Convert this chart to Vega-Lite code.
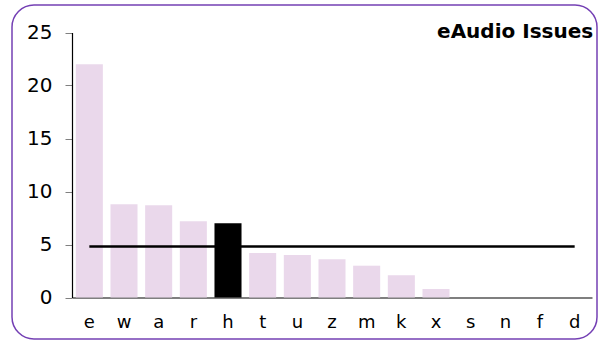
{
  "$schema": "https://vega.github.io/schema/vega-lite/v6.json",
  "width": 585,
  "height": 334,
  "autosize": {"type": "none"},
  "padding": {"left": 12, "top": 5, "right": 2, "bottom": 6},
  "background": "white",
  "config": {
    "view": {"stroke": "#7440B4", "strokeWidth": 1.5, "cornerRadius": 22},
    "font": "DejaVu Sans"
  },
  "datasets": {
    "issues": [
      {"cat": "e", "count": 22, "avg": 4.8},
      {"cat": "w", "count": 8.8, "avg": 4.8},
      {"cat": "a", "count": 8.7, "avg": 4.8},
      {"cat": "r", "count": 7.2, "avg": 4.8},
      {"cat": "h", "count": 7.0, "avg": 4.8},
      {"cat": "t", "count": 4.2, "avg": 4.8},
      {"cat": "u", "count": 4.0, "avg": 4.8},
      {"cat": "z", "count": 3.6, "avg": 4.8},
      {"cat": "m", "count": 3.0, "avg": 4.8},
      {"cat": "k", "count": 2.1, "avg": 4.8},
      {"cat": "x", "count": 0.8, "avg": 4.8},
      {"cat": "s", "count": 0, "avg": 4.8},
      {"cat": "n", "count": 0, "avg": 4.8},
      {"cat": "f", "count": 0, "avg": 4.8},
      {"cat": "d", "count": 0, "avg": 4.8}
    ],
    "heading": [{"label": "eAudio Issues", "cat": "d", "pos": 24.5}]
  },
  "data": {"name": "issues"},
  "encoding": {
    "x": {
      "field": "cat",
      "type": "nominal",
      "sort": null,
      "scale": {"range": [60, 580], "paddingInner": 0.22, "paddingOuter": 0.11},
      "axis": {
        "title": null,
        "offset": -41.5,
        "labelAngle": 0,
        "ticks": false,
        "tickSize": 0,
        "labelPadding": 29.5,
        "labelBaseline": "alphabetic",
        "labelFont": "DejaVu Sans",
        "labelFontSize": 18,
        "labelColor": "black",
        "domainColor": "black",
        "domainWidth": 1.2,
        "grid": false
      }
    }
  },
  "layer": [
    {
      "mark": {"type": "bar"},
      "encoding": {
        "y": {
          "field": "count",
          "type": "quantitative",
          "scale": {"domain": [0, 25], "range": [292.5, 27.5], "nice": false},
          "axis": {
            "title": null,
            "offset": -60,
            "values": [0, 5, 10, 15, 20, 25],
            "tickSize": 7,
            "tickColor": "#808080",
            "labelPadding": 13,
            "labelFont": "DejaVu Sans",
            "labelFontSize": 20,
            "labelColor": "black",
            "domainColor": "black",
            "domainWidth": 1.2,
            "grid": false
          }
        },
        "color": {
          "condition": {"test": "datum.cat === 'h'", "value": "#000000"},
          "value": "#EAD8EB"
        }
      }
    },
    {
      "mark": {"type": "line", "color": "black", "strokeWidth": 2.5},
      "encoding": {
        "y": {"field": "avg", "type": "quantitative"}
      }
    },
    {
      "data": {"name": "heading"},
      "mark": {
        "type": "text",
        "align": "right",
        "baseline": "alphabetic",
        "font": "DejaVu Sans",
        "fontSize": 20,
        "fontWeight": "bold",
        "color": "black",
        "dx": 5
      },
      "encoding": {
        "x": {"field": "cat", "type": "nominal", "bandPosition": 1},
        "y": {"field": "pos", "type": "quantitative"},
        "text": {"field": "label"}
      }
    }
  ]
}
